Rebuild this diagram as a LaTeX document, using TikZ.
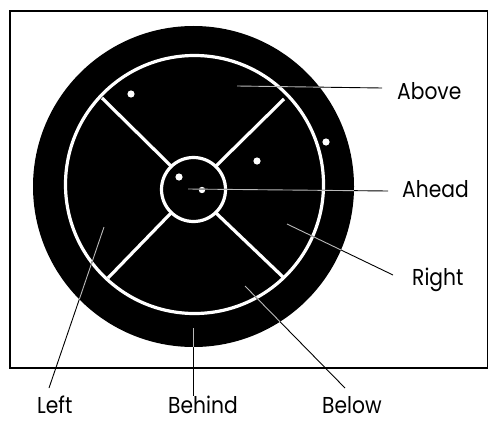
\documentclass[tikz,border=0pt]{standalone}
\usepackage{fontspec}
\setmainfont{Poppins}[FakeStretch=0.88]
\begin{document}
\begin{tikzpicture}[x=1pt,y=-1pt,
  lab/.style={anchor=base west,inner sep=0pt,font=\fontsize{23}{23}\selectfont},
  lead/.style={draw=black,line width=0.9pt},
  leadin/.style={draw=gray!55,line width=0.9pt},
  wline/.style={draw=white,line width=3.2pt},
  wdot/.style={fill=white}]
\useasboundingbox (0,0) rectangle (489,420);
\draw[line width=1.8pt] (10,11) rectangle (487.5,368);
% disk
\fill[black] (193.5,186.5) circle (160.5);
\draw[wline] (194.5,184.5) circle (129);
\draw[wline] (193.5,189.5) circle (32);
% cross
\coordinate (ulo) at (102,98);  \coordinate (uli) at (171,166);
\coordinate (uro) at (284,99);  \coordinate (uri) at (216,166);
\coordinate (llo) at (108,278); \coordinate (lli) at (171,213);
\coordinate (lro) at (283,277); \coordinate (lri) at (216,213);
\draw[wline] (ulo) -- (uli);
\draw[wline] (uro) -- (uri);
\draw[wline] (llo) -- (lli);
\draw[wline] (lro) -- (lri);
% dots
\fill[wdot] (131,94) circle (3.6);
\fill[wdot] (326,142) circle (3.6);
\fill[wdot] (257,161) circle (3.6);
\fill[wdot] (179,177) circle (3.6);
\fill[wdot] (202,190) circle (3.2);
% labels
\node[lab] (above) at (397,99) {Above};
\node[lab] (ahead) at (402,197) {Ahead};
\node[lab] (right) at (412,285) {Right};
\node[lab] (left) at (37,413) {Left};
\node[lab] (behind) at (168,413) {Behind};
\node[lab] (below) at (322,413) {Below};
% leader end points
\coordinate (pabove) at (237,86);  \coordinate (qabove) at (382,88);
\coordinate (pahead) at (188,189); \coordinate (qahead) at (388,191);
\coordinate (pright) at (287,224); \coordinate (qright) at (393,275);
\coordinate (pbelow) at (245,286); \coordinate (qbelow) at (345,388);
\coordinate (pbehind) at (193,328); \coordinate (qbehind) at (193,396);
\coordinate (pleft) at (104,227); \coordinate (qleft) at (49,388);
\foreach \n in {above,ahead,right,below,behind,left}{
  \draw[lead] (p\n) -- (q\n);
}
\begin{scope}
  \clip (193.5,186.5) circle (160.5);
  \foreach \n in {above,ahead,right,below,behind,left}{
    \draw[leadin] (p\n) -- (q\n);
  }
\end{scope}
\end{tikzpicture}
\end{document}
